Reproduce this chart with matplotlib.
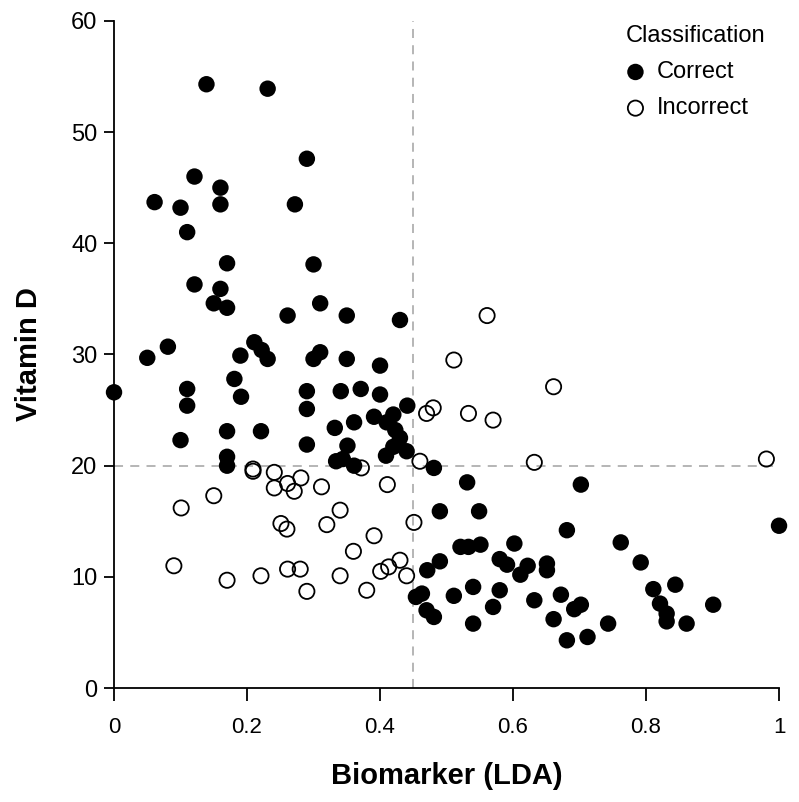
import matplotlib.pyplot as plt

plt.rcParams['font.family'] = ['Liberation Sans', 'DejaVu Sans']

# Correct classification (filled)
correct_x = [0.139, 0.231, 0.290, 0.121, 0.160, 0.061, 0.100, 0.160, 0.272, 0.110,
             0.170, 0.300, 0.121, 0.160, 0.150, 0.170, 0.310, 0.261, 0.350, 0.430,
             0.081, 0.211, 0.222, 0.231, 0.050, 0.190, 0.300, 0.310, 0.350, 0.400,
             0.000, 0.110, 0.110, 0.181, 0.191, 0.290, 0.290, 0.341, 0.371, 0.400, 0.441,
             0.361, 0.332, 0.391, 0.420, 0.410, 0.423, 0.430, 0.420, 0.409, 0.440,
             0.100, 0.170, 0.221, 0.290, 0.351, 0.170, 0.170, 0.334, 0.344, 0.361, 0.481,
             0.531, 0.702, 0.490, 0.549, 1.000, 0.681, 0.762, 0.521, 0.533, 0.551,
             0.602, 0.792, 0.490, 0.471, 0.580, 0.591, 0.622, 0.611, 0.651, 0.651,
             0.811, 0.844, 0.511, 0.540, 0.580, 0.632, 0.672, 0.821, 0.901, 0.570,
             0.692, 0.702, 0.831, 0.831, 0.454, 0.463, 0.470, 0.481, 0.540, 0.661,
             0.743, 0.861, 0.681, 0.712]
correct_y = [54.3, 53.9, 47.6, 46.0, 45.0, 43.7, 43.2, 43.5, 43.5, 41.0,
             38.2, 38.1, 36.3, 35.9, 34.6, 34.2, 34.6, 33.5, 33.5, 33.1,
             30.7, 31.1, 30.4, 29.6, 29.7, 29.9, 29.6, 30.2, 29.6, 29.0,
             26.6, 26.9, 25.4, 27.8, 26.2, 26.7, 25.1, 26.7, 26.9, 26.4, 25.4,
             23.9, 23.4, 24.4, 24.6, 23.9, 23.2, 22.5, 21.7, 20.9, 21.3,
             22.3, 23.1, 23.1, 21.9, 21.8, 20.8, 20.0, 20.4, 20.6, 20.0, 19.8,
             18.5, 18.3, 15.9, 15.9, 14.6, 14.2, 13.1, 12.7, 12.7, 12.9,
             13.0, 11.3, 11.4, 10.6, 11.6, 11.1, 11.0, 10.2, 11.2, 10.6,
             8.9, 9.3, 8.3, 9.1, 8.8, 7.9, 8.4, 7.6, 7.5, 7.3,
             7.1, 7.5, 6.7, 6.0, 8.2, 8.5, 7.0, 6.4, 5.8, 6.2,
             5.8, 5.8, 4.3, 4.6]

# Incorrect classification (open)
incorrect_x = [0.561, 0.511, 0.661, 0.480, 0.470, 0.533, 0.570, 0.632, 0.981, 0.460, 0.372,
               0.209, 0.209, 0.241, 0.281, 0.261, 0.241, 0.271, 0.312, 0.411, 0.150,
               0.101, 0.251, 0.260, 0.320, 0.340, 0.391, 0.451, 0.360, 0.090, 0.170,
               0.221, 0.261, 0.280, 0.290, 0.340, 0.380, 0.401, 0.413, 0.430, 0.440]
incorrect_y = [33.5, 29.5, 27.1, 25.2, 24.7, 24.7, 24.1, 20.3, 20.6, 20.4, 19.8,
               19.7, 19.5, 19.4, 18.9, 18.4, 18.0, 17.7, 18.1, 18.3, 17.3,
               16.2, 14.8, 14.3, 14.7, 16.0, 13.7, 14.9, 12.3, 11.0, 9.7,
               10.1, 10.7, 10.7, 8.7, 10.1, 8.8, 10.5, 10.9, 11.5, 10.1]

x_cut = 0.45
y_cut = 20

fig = plt.figure(figsize=(7.99, 8.02), dpi=100)
ax = fig.add_axes([0.1427, 0.142, 0.8323, 0.832])

ax.axhline(y_cut, color='#b0b0b0', linestyle=(0, (5, 4)), linewidth=1.3, zorder=1)
ax.axvline(x_cut, color='#b0b0b0', linestyle=(0, (5, 4)), linewidth=1.3, zorder=1)

ax.scatter(correct_x, correct_y, s=140, color='black', edgecolors='none',
           label='Correct', zorder=3, clip_on=False)
ax.scatter(incorrect_x, incorrect_y, s=120, facecolors='none', edgecolors='black',
           linewidths=1.3, label='Incorrect', zorder=4, clip_on=False)

ax.set_xlim(0, 1)
ax.set_ylim(0, 60)
ax.set_xticks([0, 0.2, 0.4, 0.6, 0.8, 1])
ax.set_xticklabels(['0', '0.2', '0.4', '0.6', '0.8', '1'])
ax.set_yticks(range(0, 61, 10))

for side in ['top', 'right']:
    ax.spines[side].set_visible(False)
for side in ['left', 'bottom']:
    ax.spines[side].set_linewidth(1.3)

ax.tick_params(axis='x', direction='out', length=9, width=1.3, pad=12, labelsize=16)
ax.tick_params(axis='y', direction='out', length=7, width=1.3, pad=5, labelsize=17)

ax.set_xlabel('Biomarker (LDA)', fontsize=21, fontweight='bold', labelpad=17)
ax.set_ylabel('Vitamin D', fontsize=21, fontweight='bold', labelpad=20)

leg = ax.legend(title='Classification', loc='upper left',
                bbox_to_anchor=(626 / 799, 1 - 25 / 802), bbox_transform=fig.transFigure,
                frameon=False, fontsize=17, title_fontsize=17, handlelength=0.8,
                handletextpad=0.5, borderpad=0.0, borderaxespad=0.0,
                labelspacing=0.6, alignment='left')

plt.savefig('out.png', dpi=100)
plt.close()
